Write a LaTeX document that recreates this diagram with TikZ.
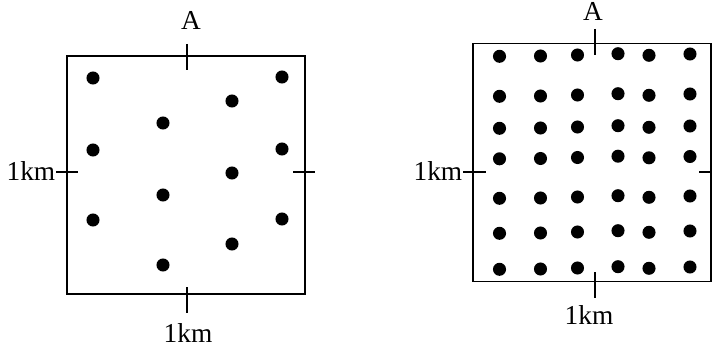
\documentclass[tikz,border=0pt]{standalone}
\usepackage{fontspec}
\setmainfont{Liberation Serif}
\usetikzlibrary{positioning}

\begin{document}
\begin{tikzpicture}[
        x=0.75pt, y=-0.75pt,
        border/.style={draw, line width=1.4pt},
        cut/.style={line width=1.4pt},
        tree/.style={fill=black},
        lbl/.style={font=\fontsize{20.5}{24}\selectfont, inner sep=0pt, anchor=base}
        ]
        \useasboundingbox (0,0) rectangle (712,346);

        % left plot: scattered trees
        \draw[border] (67,56) rectangle (305,294);
        \draw[cut] (187,44) -- (187,70);
        \draw[cut] (187,287) -- (187,313);
        \draw[cut] (56,172) -- (78,172);
        \draw[cut] (293,172) -- (315,172);
        \node[lbl] (topL)   at (191,30)  {A};
        \node[lbl, anchor=base east] (sideL) at (55.5,180) {1km};
        \node[lbl] (baseL)  at (188,342) {1km};
        \foreach \x/\y in {93/78, 282/77, 232/101, 163/123,
                           93/150, 282/149, 232/173, 163/195,
                           93/220, 282/219, 232/244, 163/265}
            \fill[tree] (\x,\y) circle[radius=4.9pt];

        % right plot: dense grid of trees
        \draw[border] (473,43.5) rectangle (711,281.5);
        \draw[cut] (595,29) -- (595,55);
        \draw[cut] (595,272) -- (595,298);
        \draw[cut] (463,172) -- (486,172);
        \draw[cut] (699,172) -- (711,172);
        \node[lbl] (topR)   at (593,20.7) {A};
        \node[lbl, anchor=base east] (sideR) at (462.5,180) {1km};
        \node[lbl] (baseR)  at (589,324)  {1km};
        \foreach \x/\dy in {499.5/1.3, 540.5/1, 577.5/0, 618/-1.3, 649/0.3, 690/-1}
            \foreach \y in {55, 95, 127, 157.5, 197, 232, 268}
                \fill[tree] (\x,\y+\dy) circle[radius=4.9pt];
\end{tikzpicture}
\end{document}
